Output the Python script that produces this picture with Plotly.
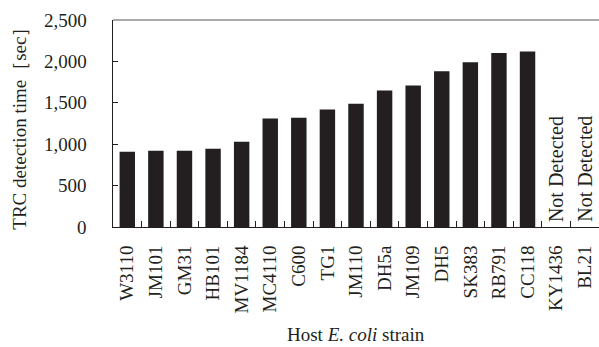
import plotly.graph_objects as go

strains = ["W3110", "JM101", "GM31", "HB101", "MV1184", "MC4110", "C600", "TG1",
           "JM110", "DH5a", "JM109", "DH5", "SK383", "RB791", "CC118", "KY1436", "BL21"]
times = [910, 920, 920, 945, 1030, 1310, 1320, 1420, 1490, 1650, 1710, 1880, 1990,
         2100, 2120, None, None]
not_detected = ["KY1436", "BL21"]
y_ticks = [0, 500, 1000, 1500, 2000, 2500]
y_tick_labels = ["0", "500", "1,000", "1,500", "2,000", "2,500"]

FONT = "Liberation Serif"
FS = 19
COL = "#231f20"

fig = go.Figure()
fig.add_trace(go.Bar(x=strains, y=times, marker_color=COL, marker_line_width=0))

for s in not_detected:
    fig.add_annotation(x=s, y=0, yref="y", xref="x", text="Not Detected", textangle=-90,
                       showarrow=False, yanchor="bottom", yshift=3,
                       font=dict(family=FONT, size=20, color=COL))

for v, t in zip(y_ticks, y_tick_labels):
    fig.add_annotation(xref="paper", yref="y", x=0, y=v, text=t, showarrow=False,
                       xanchor="right", yanchor="middle", xshift=-24,
                       font=dict(family=FONT, size=FS, color=COL))

fig.add_annotation(xref="paper", yref="paper", x=-0.193, y=0.5, text="TRC detection time［sec］",
                   textangle=-90, showarrow=False, xanchor="center", yanchor="middle",
                   font=dict(family=FONT, size=FS, color=COL))
fig.add_annotation(xref="paper", yref="paper", x=0.5, y=-0.52, text="Host <i>E. coli</i> strain",
                   showarrow=False, xanchor="center", yanchor="middle",
                   font=dict(family=FONT, size=FS, color=COL))

fig.update_layout(
    width=599, height=347,
    margin=dict(l=113, r=0, t=20, b=120),
    paper_bgcolor="white", plot_bgcolor="white",
    bargap=0.46, showlegend=False,
    font=dict(family=FONT, size=FS, color=COL),
    xaxis=dict(type="category", tickangle=-90, ticks="inside", tickson="boundaries",
               ticklen=6, tickcolor=COL, showline=True, linecolor=COL,
               linewidth=1, showgrid=False, mirror=False, ticklabelstandoff=10,
               tickfont=dict(family=FONT, size=FS, color=COL)),
    yaxis=dict(range=[0, 2500], tickvals=y_ticks, showticklabels=False, ticks="inside",
               ticklen=5, tickcolor=COL, showline=True, linecolor=COL,
               linewidth=1, showgrid=False, zeroline=False),
)
fig.add_shape(type="line", xref="paper", yref="paper", x0=0, x1=1, y0=1, y1=1,
              line=dict(color="#555555", width=1))

fig.write_html("out.html", config={"displayModeBar": False},
               post_script="document.body.style.margin='0';document.body.style.overflow='hidden';")
